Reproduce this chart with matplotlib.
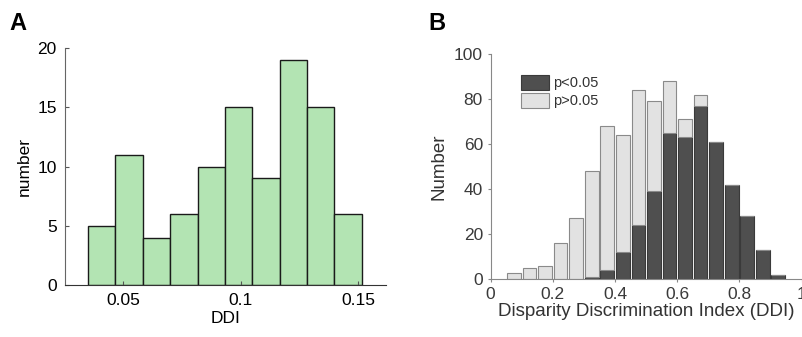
import matplotlib
matplotlib.use('Agg')
import matplotlib.pyplot as plt
import numpy as np

plt.rcParams['font.family'] = ['Liberation Sans', 'DejaVu Sans']

# panel A: DDI histogram (10 bins)
ddi_counts = [5, 11, 4, 6, 10, 15, 9, 19, 15, 6]
ddi_lo, ddi_hi = 0.035, 0.1515
ddi_ticks = [0.05, 0.1, 0.15]
ddi_ticklabels = ['0.05', '0.1', '0.15']

# panel B: stacked histogram, bin centres 0.075 ... 0.925
b_centers = [0.075, 0.125, 0.175, 0.225, 0.275, 0.325, 0.375, 0.425, 0.475,
             0.525, 0.575, 0.625, 0.675, 0.725, 0.775, 0.825, 0.875, 0.925]
sig = [0, 0, 0, 0, 0, 1, 4, 12, 24, 39, 65, 63, 77, 61, 42, 28, 13, 2]
total = [3, 5, 6, 16, 27, 48, 68, 64, 84, 79, 88, 71, 82, 61, 42, 28, 13, 2]
nonsig = [t - s for t, s in zip(total, sig)]
b_xticks = [0, 0.2, 0.4, 0.6, 0.8, 1]
b_xticklabels = ['0', '0.2', '0.4', '0.6', '0.8', '1']
b_yticks = [0, 20, 40, 60, 80, 100]

fig = plt.figure(figsize=(8.03, 3.37), dpi=100)

# ---- A ----
axA = fig.add_axes([0.081, 0.1543, 0.3997, 0.7024])
edges = np.linspace(ddi_lo, ddi_hi, len(ddi_counts) + 1)
axA.bar(edges[:-1], ddi_counts, width=np.diff(edges), align='edge',
        color='#b3e4b3', edgecolor='#1a1a1a', linewidth=1.0)
axA.set_xlim(0.0252, 0.1618)
axA.set_ylim(0, 20)
axA.set_yticks([0, 5, 10, 15, 20])
axA.set_xticks(ddi_ticks)
axA.set_xticklabels(ddi_ticklabels)
axA.tick_params(direction='in', length=3, labelsize=12.5, color='#555555', pad=6)
axA.spines['top'].set_visible(False)
axA.spines['right'].set_visible(False)
axA.spines['left'].set_color('#666666')
axA.spines['bottom'].set_color('#333333')
axA.set_xlabel('DDI', fontsize=12.5, labelpad=2)
axA.set_ylabel('number', fontsize=12.5, labelpad=4)
fig.text(0.012, 0.965, 'A', fontsize=17, fontweight='bold', va='top')

# ---- B ----
axB = fig.add_axes([0.611, 0.1712, 0.3873, 0.6686])
axB.bar(b_centers, sig, width=0.044, color='#4f4f4f', edgecolor='#3a3a3a',
        linewidth=0.8, label='p<0.05')
axB.bar(b_centers, nonsig, width=0.044, bottom=sig, color='#e2e2e2',
        edgecolor='#8a8a8a', linewidth=0.8, label='p>0.05')
axB.set_xlim(0, 1.0)
axB.set_ylim(0, 100)
axB.set_xticks(b_xticks)
axB.set_xticklabels(b_xticklabels)
axB.set_yticks(b_yticks)
axB.tick_params(direction='out', length=2, labelsize=12.5, colors='#3a3a3a',
                color='#888888')
axB.spines['top'].set_visible(False)
axB.spines['right'].set_visible(False)
axB.spines['left'].set_color('#888888')
axB.spines['bottom'].set_color('#888888')
axB.set_xlabel('Disparity Discrimination Index (DDI)', fontsize=13.5,
               color='#333333', labelpad=1)
axB.set_ylabel('Number', fontsize=13.5, color='#333333', labelpad=5)
axB.legend(loc='upper left', bbox_to_anchor=(0.055, 0.965), frameon=False,
           fontsize=10.5, handlelength=1.9, handleheight=1.2, labelspacing=0.15,
           handletextpad=0.3, labelcolor='#333333')
fig.text(0.533, 0.965, 'B', fontsize=17, fontweight='bold', va='top')

fig.savefig('out.png', dpi=100)
